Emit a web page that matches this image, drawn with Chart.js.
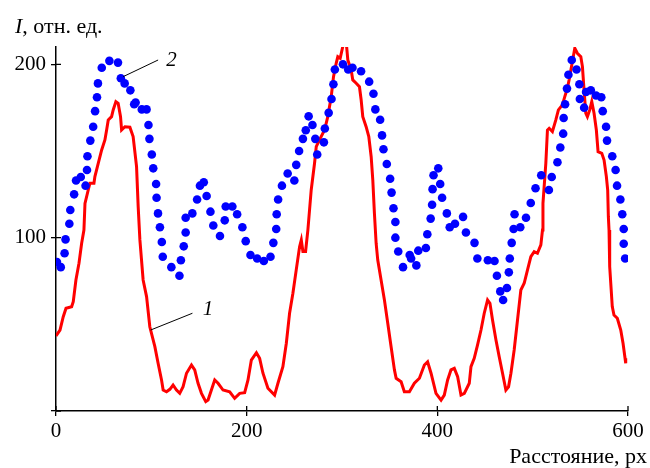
<!DOCTYPE html>
<html>
<head>
<meta charset="utf-8">
<script src="https://cdn.jsdelivr.net/npm/chart.js@4.4.1/dist/chart.umd.min.js"></script>
<style>
  html, body { margin: 0; padding: 0; background: #fff; }
  #wrap { width: 650px; height: 468px; position: relative; }
</style>
</head>
<body>
<div id="wrap"><canvas id="chart"></canvas></div>
<script>
// кривая 1 (красная линия)
const redX = [0,4.2,7.6,10.5,16.4,18.1,20.9,24.1,26.9,29.3,
  30.4,33.8,35.6,39.8,40.8,44.3,47.9,51.3,53.1,54.8,
  58.3,60,62.8,65.2,67.7,68.8,72.3,77.5,80.9,84.5,
  86.2,88,91.4,95,98.4,103.7,107.1,110.7,112.4,115.9,
  119.4,122.8,126.4,129.8,133.3,136.9,142.1,145.5,149,152.6,
  157.1,159.5,163,166.5,170,175.2,182.2,187.4,192.7,197.9,
  201.4,204.9,210.2,213.6,217.1,222.3,229.3,232.8,238,241.6,
  245,248.5,252,255.5,257.3,259,261.8,264.2,267.7,271.2,
  273,276.4,281.7,285.1,288.7,291.1,293.9,295.6,298.1,300.8,
  304.4,306.1,309.6,311.3,314.9,318.3,320.1,321.8,325.3,328.1,
  330.6,332.3,334,335.8,337.5,341,344.5,348,351.5,355,
  356.8,362,365.4,370.7,375.9,381.2,386.4,389.8,393.4,398.6,
  403.9,407.3,410.8,414.3,417.8,421.3,424.8,428.3,433.5,435.3,
  438.7,442.2,445.8,449.2,452.7,455.2,457.9,461.5,464.9,468.4,
  471.9,474.7,477.2,480.6,484.1,487.6,491.1,494.6,498.1,501.6,
  505,508.6,510.3,510.8,513.8,515.5,517.3,520.7,524.3,527,
  531.2,533.7,536.4,538.2,541.7,544.2,546.9,550.5,552.2,553.9,
  555.7,557.4,559.9,562,564.4,566.8,568.6,572.5,574.9,577.3,
  578.7,579.4,580.1,580.8,583.5,585.3,588.8,592.4,594.8,596.9,597.6];
const redY = [43.3,46.7,54.4,59.3,60.2,63.1,75.6,85.2,96.8,104.4,
  119.8,127.5,131.4,131.4,135.2,142.9,150.6,156.4,162.1,167.9,
  169.8,173.7,178.5,177.5,169.8,162.1,164,163.7,158.3,141,
  117.9,98.7,75.6,66,48.6,37.1,27.5,17.9,12.1,11.1,
  12.5,15,12.1,10.2,14,21.8,26.5,23.7,16,10.2,
  5.4,6.3,12.1,17.9,16,12.1,11.1,7.3,10.2,10.6,
  17.9,29.4,33.6,30.4,21.8,13.1,9.2,16,25.6,39.1,
  56.4,67.9,81.4,94.8,98.7,92,92,104.4,127.5,142.9,
  152.5,156.4,162.1,169.8,181.4,192.9,200.6,204.4,203.5,210.2,
  213,202.5,196.8,191,189.1,187.1,179.4,169.8,164,158.3,
  146.7,133.3,114.1,96.8,87.1,75.6,64,50.6,37.1,23.7,
  18.9,16.9,11.1,11.1,16,18.9,26.5,28.4,21.8,10.2,
  6.3,9.2,17.9,23.7,24.6,19.8,9.2,10.2,16,25.6,
  30.4,38.1,46.7,56.4,64,62.1,52.5,41,31.3,21.8,
  12.1,14,21.8,35.2,52.5,69.8,73.7,81.4,89,91.9,
  91,95.8,104.4,119.8,142.9,162.1,163.1,161.2,167.9,173.7,
  176.6,181.4,186.2,191,201.6,209.3,206.4,204.4,198.7,185.2,
  171.8,169.8,173.7,178.5,171.8,162.1,149.6,148.7,144.8,135.2,
  127.5,112.1,104.4,83.3,60.2,55.4,53.5,46.7,39.1,30.4,27.5];

// кривая 2 (синие точки)
const blueX = [1,5,9,10,14,15,19,21,26,31,
  32.5,33,36,39,41,43,44,48,56,65,
  68,72,78,82,83.5,90,95,97,98,100.5,
  102,105,105.5,107,109,111,112,121,129.5,131,
  134,136,136,143,148,151,155,158,162,165,
  172,177,178,185,190,195.5,199,204,211,218,
  225,228,231,231.5,233,237,243,250,252,255,
  259,262,265,269,272,274,281,282,286,289,
  291,292.5,301,306.5,311,320,328.5,333,335,340,
  342,343.5,347,350.5,352,354,356,356,359,364,
  371,372.5,378,380,388,389.5,393,394.5,395,396,
  401,403,405,410,413,418.5,427,430,439,442,
  453,460,462.5,466,469,473,475,476,478,480,
  481,487,493,498,503,509,517,520,526,529,
  532,532.5,534,536,537.5,541,546,549,549.5,554,
  556,561,566.5,572,573.5,577,578,583.5,587,588.5,
  592,594,595.5,595.5,597];
const blueY = [86,83,91,99,108,116,125,133,135,130,
  139,147,156,164,173,181,189,198,202,201,
  192,189,185,177,178,174,174,165,157,148,
  140,131,123,114,106,97.5,89,83,78,87,
  95,103,111.5,114,122,130,132,124,115,107,
  101,110,118,118,113.5,106,98,90,88,86.5,
  89,97,105,113.5,122,130,137,133,142,150,
  157,162,170,165,157,148,155,163,172,180,
  188.5,197,200,197,198,196,190,183,174,168,
  159,151,142.5,134,126,117,109,100,92,83,
  90,88,84,92.5,94,102,111,119,128,136,
  140,131,123,114,106,108,112,103,97,88,
  87,86.5,78,69,64,71,80,88,97,105,
  113.5,106,111.5,120,128.5,136,127.5,135,143.5,152,
  160,169,177,186,194,202.5,197,188.5,180,175,
  184,185,182,181,173,164,156,147,139,130,
  122,113.5,105,96.5,88];

// деления осей
const xTicks = [0, 200, 400, 600];
const yTicks = [0, 100, 200];

const serif = '"Liberation Serif", "Times New Roman", serif';

// выноски с номерами кривых (в единицах осей)
const callouts = [
    { text: '1', from: [99.2, 46.7], to: [143.1, 56.4], at: [159.5, 58.6] },
    { text: '2', from: [70.5, 192.9], to: [107.1, 202.5], at: [121.2, 202.5] }
];

function toPoints(xs, ys) {
    return xs.map((v, i) => ({ x: v, y: ys[i] }));
}

// подписи осей, внутренние половинки делений, выноски
const extras = {
    id: 'extras',
    afterDraw(chart) {
        const { ctx, chartArea, scales: { x, y } } = chart;
        ctx.save();
        ctx.strokeStyle = '#000';
        ctx.lineWidth = 1.3;
        ctx.beginPath();
        xTicks.forEach(v => {
            const px = x.getPixelForValue(v);
            ctx.moveTo(px, chartArea.bottom);
            ctx.lineTo(px, chartArea.bottom - 5);
        });
        yTicks.forEach(v => {
            const py = y.getPixelForValue(v);
            ctx.moveTo(chartArea.left, py);
            ctx.lineTo(chartArea.left + 5, py);
        });
        ctx.stroke();

        ctx.lineWidth = 1;
        ctx.fillStyle = '#000';
        ctx.font = 'italic 21px ' + serif;
        ctx.textAlign = 'center';
        ctx.textBaseline = 'middle';
        callouts.forEach(c => {
            ctx.beginPath();
            ctx.moveTo(x.getPixelForValue(c.from[0]), y.getPixelForValue(c.from[1]));
            ctx.lineTo(x.getPixelForValue(c.to[0]), y.getPixelForValue(c.to[1]));
            ctx.stroke();
            ctx.fillText(c.text, x.getPixelForValue(c.at[0]), y.getPixelForValue(c.at[1]));
        });

        // I, отн. ед.
        ctx.textAlign = 'left';
        ctx.textBaseline = 'alphabetic';
        ctx.font = 'italic 22px ' + serif;
        ctx.fillText('I', 15, 33);
        const w = ctx.measureText('I').width;
        ctx.font = '22px ' + serif;
        ctx.fillText(', отн. ед.', 15 + w, 33);

        // Расстояние, px
        ctx.textAlign = 'right';
        ctx.fillText('Расстояние, px', 647, 463);
        ctx.restore();
    }
};

const axisFont = { family: serif, size: 21 };

new Chart(document.getElementById('chart'), {
    type: 'scatter',
    data: {
        datasets: [{
            label: '2',
            data: toPoints(blueX, blueY),
            showLine: false,
            pointRadius: 4.3,
            pointBorderWidth: 0,
            pointBackgroundColor: '#0000ff',
            pointBorderColor: '#0000ff'
        }, {
            label: '1',
            data: toPoints(redX, redY),
            showLine: true,
            borderColor: '#ff0000',
            borderWidth: 3,
            pointRadius: 0,
            tension: 0
        }]
    },
    options: {
        responsive: true,
        maintainAspectRatio: false,
        animation: false,
        layout: { padding: { left: 0, right: 22, top: 47, bottom: 0 } },
        plugins: {
            legend: { display: false },
            tooltip: { enabled: false }
        },
        scales: {
            x: {
                type: 'linear',
                min: 0,
                max: 600,
                afterBuildTicks: s => { s.ticks = xTicks.map(v => ({ value: v })); },
                afterFit: s => { s.height = 57; s.paddingLeft = 0; s.paddingRight = 0; },
                ticks: { font: axisFont, color: '#000', padding: 3, maxRotation: 0 },
                grid: { drawOnChartArea: false, tickLength: 5, color: '#000', lineWidth: 1.3 },
                border: { color: '#000', width: 1.5 }
            },
            y: {
                min: 0,
                max: 210,
                afterBuildTicks: s => { s.ticks = yTicks.map(v => ({ value: v })); },
                afterFit: s => { s.width = 56; s.paddingTop = 0; s.paddingBottom = 0; },
                ticks: { font: axisFont, color: '#000', padding: 5, callback: v => v === 0 ? '' : v },
                grid: { drawOnChartArea: false, tickLength: 5, color: '#000', lineWidth: 1.3 },
                border: { color: '#000', width: 1.5 }
            }
        }
    },
    plugins: [extras]
});
</script>
</body>
</html>
